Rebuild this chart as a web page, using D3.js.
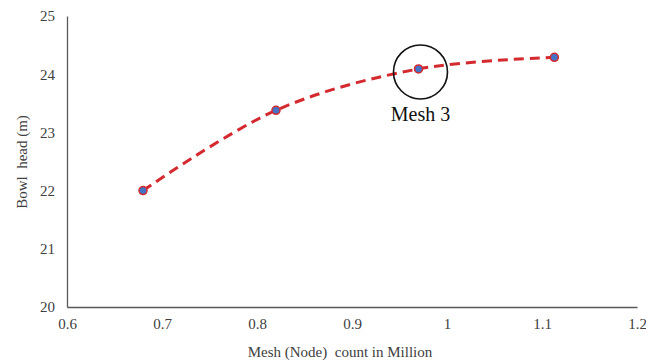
<!DOCTYPE html>
<html>
<head>
<meta charset="utf-8">
<script src="https://cdn.jsdelivr.net/npm/d3@7"></script>
<style>
  html, body { margin: 0; padding: 0; background: #fff; }
  svg { display: block; }
  text { font-family: "Liberation Serif", "Times New Roman", serif; white-space: pre; }
</style>
</head>
<body>
<svg id="chart" width="646" height="362"></svg>
<script>
// Mesh independence study: bowl head against node count
const meshNodes = [0.68, 0.82, 0.97, 1.113];
const bowlHead = [22.0, 23.38, 24.09, 24.29];
const xTicks = [0.6, 0.7, 0.8, 0.9, 1, 1.1, 1.2];
const yTicks = [20, 21, 22, 23, 24, 25];
const highlightIndex = 2;
const highlightLabel = "Mesh 3";

const serif = "Liberation Serif, Times New Roman, serif";
const svg = d3.select("#chart");
const margin = { left: 67, right: 9, top: 16, bottom: 55 };
const W = 646, H = 362;

const x = d3.scaleLinear().domain([0.6, 1.2]).range([margin.left, W - margin.right]);
const y = d3.scaleLinear().domain([20, 25]).range([H - margin.bottom, margin.top]);

// Axes
const xAxis = svg.append("g")
  .attr("transform", `translate(0,${y(20)})`)
  .call(d3.axisBottom(x).tickValues(xTicks).tickSize(0).tickPadding(11)
    .tickFormat(d => String(d)));
const yAxis = svg.append("g")
  .attr("transform", `translate(${x(0.6)},0)`)
  .call(d3.axisLeft(y).tickValues(yTicks).tickSize(0).tickPadding(12)
    .tickFormat(d3.format("d")));

[xAxis, yAxis].forEach(g => {
  g.attr("font-family", serif).attr("font-size", 15);
  g.select(".domain").attr("stroke", "#595959").attr("stroke-width", 1.3);
  g.selectAll("text").attr("fill", "#404040");
});

// Axis titles
svg.append("text")
  .attr("x", 340).attr("y", 357)
  .attr("text-anchor", "middle")
  .attr("fill", "#404040")
  .attr("font-family", serif)
  .attr("font-size", 15)
  .text("Mesh (Node)  count in Million");

svg.append("text")
  .attr("transform", `translate(27,${162}) rotate(-90)`)
  .attr("text-anchor", "middle")
  .attr("fill", "#404040")
  .attr("font-family", serif)
  .attr("font-size", 15)
  .text("Bowl  head (m)");

// Smoothed dashed trend through the points
const pts = meshNodes.map((v, i) => [v, bowlHead[i]]);
const line = d3.line()
  .x(d => x(d[0]))
  .y(d => y(d[1]))
  .curve(d3.curveCatmullRom.alpha(0.5));

svg.append("path")
  .datum(pts)
  .attr("d", line)
  .attr("fill", "none")
  .attr("stroke", "#d42a2f")
  .attr("stroke-width", 3)
  .attr("stroke-dasharray", "10,6");

// Markers
svg.selectAll("circle.pt")
  .data(pts)
  .join("circle")
  .attr("class", "pt")
  .attr("cx", d => x(d[0]))
  .attr("cy", d => y(d[1]))
  .attr("r", 4)
  .attr("fill", "#4472c4")
  .attr("stroke", "#d42a2f")
  .attr("stroke-width", 1.5);

// Highlight ring and label for the selected mesh
const hp = pts[highlightIndex];
svg.append("circle")
  .attr("cx", x(hp[0]) + 2)
  .attr("cy", y(hp[1]) + 3)
  .attr("r", 27)
  .attr("fill", "none")
  .attr("stroke", "#111")
  .attr("stroke-width", 1.6);

svg.append("text")
  .attr("x", x(hp[0]) + 2)
  .attr("y", y(hp[1]) + 52)
  .attr("text-anchor", "middle")
  .attr("fill", "#111")
  .attr("font-family", serif)
  .attr("font-size", 20)
  .text(highlightLabel);
</script>
</body>
</html>
